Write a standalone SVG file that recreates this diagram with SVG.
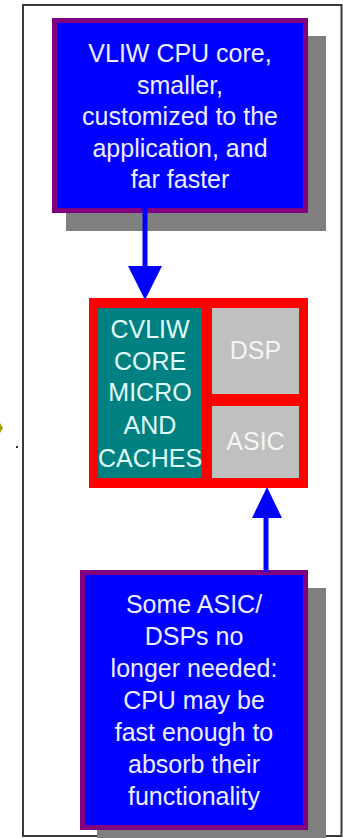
<svg xmlns="http://www.w3.org/2000/svg" width="343" height="838" viewBox="0 0 343 838">
<style>
.shadow{fill:#808080}
.note{fill:#0000ff;stroke:#800080;stroke-width:5}
.nt{font-family:"Liberation Sans",Arial,sans-serif;font-size:25px;text-anchor:middle;fill:#eeeeff}
.ct{font-family:"Liberation Sans",Arial,sans-serif;font-size:25px;text-anchor:middle;fill:#e0ffff}
.gt{font-family:"Liberation Sans",Arial,sans-serif;font-size:25px;text-anchor:middle;fill:#f4f4f4}
.conn{stroke:#0000ff;stroke-width:5;fill:none}
.head{fill:#0000ff}
</style>
<rect x="0" y="0" width="343" height="838" fill="#ffffff"/>
<rect x="23" y="5" width="318.5" height="831" fill="none" stroke="#3a3a3a" stroke-width="2"/>
<polygon points="0,423 3,428 0,433" fill="#a0a000"/>
<rect x="16" y="446" width="2" height="2" fill="#333333"/>
<g id="node-vliw">
<rect class="shadow" x="66" y="36" width="260" height="195"/>
<rect class="note" x="54.5" y="20.5" width="251" height="190"/>
<text class="nt" x="180" y="62">VLIW CPU core,</text>
<text class="nt" x="180" y="93.5">smaller,</text>
<text class="nt" x="180" y="125">customized to the</text>
<text class="nt" x="180" y="156.5">application, and</text>
<text class="nt" x="180" y="188">far faster</text>
</g>
<g id="node-chip">
<rect x="89" y="298" width="219" height="190" fill="#ff0000"/>
<g id="node-core">
<rect x="98" y="308" width="104" height="170" fill="#008080"/>
<text class="ct" x="150" y="338">CVLIW</text>
<text class="ct" x="150" y="370">CORE</text>
<text class="ct" x="150" y="401">MICRO</text>
<text class="ct" x="150" y="434">AND</text>
<text class="ct" x="150" y="466.5">CACHES</text>
</g>
<g id="node-dsp">
<rect x="212" y="308" width="87" height="86" fill="#c0c0c0"/>
<text class="gt" x="255.5" y="358.5">DSP</text>
</g>
<g id="node-asic">
<rect x="212" y="406" width="87" height="72" fill="#c0c0c0"/>
<text class="gt" x="255.5" y="450">ASIC</text>
</g>
</g>
<g id="node-asicdsp">
<rect class="shadow" x="97" y="588" width="229" height="250"/>
<rect class="note" x="82.5" y="572.5" width="223" height="255"/>
<text class="nt" x="194" y="613">Some ASIC/</text>
<text class="nt" x="194" y="645">DSPs no</text>
<text class="nt" x="194" y="677">longer needed:</text>
<text class="nt" x="194" y="709">CPU may be</text>
<text class="nt" x="194" y="741">fast enough to</text>
<text class="nt" x="194" y="773">absorb their</text>
<text class="nt" x="194" y="805">functionality</text>
</g>
<g id="connectors">
<line class="conn" x1="145" y1="208" x2="145" y2="268"/>
<polygon class="head" points="128,266 162,266 145,300"/>
<line class="conn" x1="266" y1="572" x2="266" y2="516"/>
<polygon class="head" points="252,518 282,518 267,487"/>
</g>
</svg>
